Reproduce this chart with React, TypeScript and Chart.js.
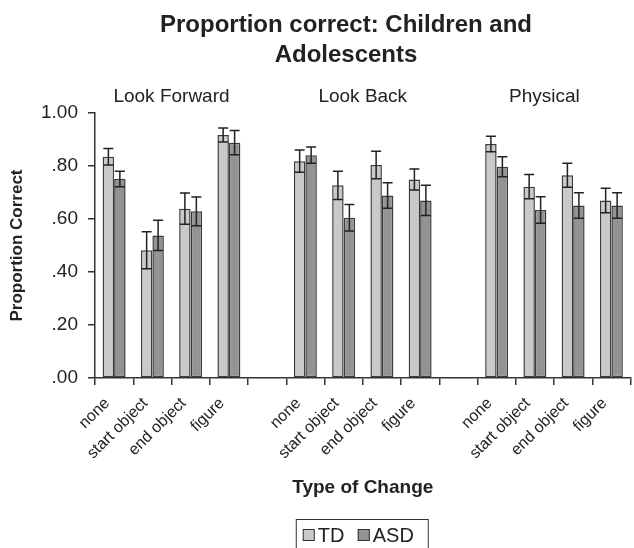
import React, { useEffect, useRef } from "react";
import { Chart, registerables } from "chart.js";

Chart.register(...registerables);

const titleLines = ["Proportion correct: Children and", "Adolescents"];
const categories = [
  "none", "start object", "end object", "figure", "",
  "none", "start object", "end object", "figure", "",
  "none", "start object", "end object", "figure",
];
const groupLabels = ["Look Forward", "Look Back", "Physical"];
const groupLabelPositions = [1.5, 6.5, 11.25];
const tdValues = [0.835, 0.482, 0.639, 0.917, null, 0.818, 0.727, 0.804, 0.749, null, 0.883, 0.722, 0.765, 0.67];
const tdErrors = [0.031, 0.07, 0.059, 0.026, null, 0.042, 0.053, 0.052, 0.04, null, 0.029, 0.046, 0.045, 0.046];
const asdValues = [0.751, 0.538, 0.629, 0.888, null, 0.841, 0.605, 0.689, 0.67, null, 0.797, 0.634, 0.651, 0.651];
const asdErrors = [0.029, 0.057, 0.054, 0.046, null, 0.031, 0.05, 0.048, 0.057, null, 0.038, 0.05, 0.048, 0.048];
const yTicks = [0, 0.2, 0.4, 0.6, 0.8, 1.0];
const seriesNames = ["TD", "ASD"];
const seriesColors = ["#c9c9cb", "#939396"];

const FONT = "'Liberation Sans', Arial, sans-serif";

const fmtTick = (v: number) => {
  if (Math.abs(v - 1) < 1e-6) return "1.00";
  return "." + String(Math.round(v * 100)).padStart(2, "0");
};

const errorBarPlugin = {
  id: "errorBars",
  afterDatasetsDraw(chart: any) {
    const ctx = chart.ctx;
    const y = chart.scales.y;
    const errs = [tdErrors, asdErrors];
    ctx.save();
    ctx.strokeStyle = "#222";
    ctx.lineWidth = 1.5;
    chart.data.datasets.forEach((ds: any, di: number) => {
      const meta = chart.getDatasetMeta(di);
      meta.data.forEach((bar: any, i: number) => {
        const v = ds.data[i];
        const e = errs[di][i];
        if (v == null || e == null) return;
        const x = bar.x;
        const yt = y.getPixelForValue(v + e);
        const yb = y.getPixelForValue(v - e);
        const hw = 5;
        ctx.beginPath();
        ctx.moveTo(x, yt);
        ctx.lineTo(x, yb);
        ctx.moveTo(x - hw, yt);
        ctx.lineTo(x + hw, yt);
        ctx.moveTo(x - hw, yb);
        ctx.lineTo(x + hw, yb);
        ctx.stroke();
      });
    });
    ctx.restore();
  },
};

const textPlugin = {
  id: "texts",
  afterDraw(chart: any) {
    const ctx = chart.ctx;
    const xs = chart.scales.x;
    const area = chart.chartArea;
    ctx.save();
    ctx.fillStyle = "#222";
    ctx.textAlign = "center";
    ctx.textBaseline = "alphabetic";
    ctx.font = `bold 24px ${FONT}`;
    ctx.fillText(titleLines[0], 346, 32);
    ctx.fillText(titleLines[1], 346, 62);

    ctx.font = `19px ${FONT}`;
    groupLabels.forEach((g, i) => {
      ctx.fillText(g, xs.getPixelForValue(groupLabelPositions[i]), 102);
    });

    // legend
    const cx = (area.left + area.right) / 2;
    const L = cx - 67;
    ctx.strokeStyle = "#333";
    ctx.lineWidth = 1;
    ctx.strokeRect(L + 0.5, 519.5, 132, 40);
    ctx.font = `20px ${FONT}`;
    ctx.textAlign = "left";
    const items = [
      { sq: L + 7, tx: L + 22 },
      { sq: L + 62, tx: L + 77 },
    ];
    items.forEach((it, i) => {
      ctx.fillStyle = seriesColors[i];
      ctx.fillRect(it.sq, 529, 12, 12);
      ctx.strokeStyle = "#333";
      ctx.strokeRect(it.sq + 0.5, 529.5, 11, 11);
      ctx.fillStyle = "#222";
      ctx.fillText(seriesNames[i], it.tx, 542);
    });
    ctx.restore();
  },
};

export default function App() {
  const ref = useRef<HTMLCanvasElement | null>(null);
  useEffect(() => {
    document.body.style.margin = "0";
    const canvas = ref.current!;
    const chart = new Chart(canvas, {
      type: "bar",
      data: {
        labels: categories,
        datasets: [
          {
            label: seriesNames[0],
            data: tdValues as any,
            backgroundColor: seriesColors[0],
            borderColor: "#3c3c3c",
            borderWidth: 1.5,
            borderSkipped: false,
            categoryPercentage: 0.6,
            barPercentage: 1.0,
          },
          {
            label: seriesNames[1],
            data: asdValues as any,
            backgroundColor: seriesColors[1],
            borderColor: "#3c3c3c",
            borderWidth: 1.5,
            borderSkipped: false,
            categoryPercentage: 0.6,
            barPercentage: 1.0,
          },
        ],
      },
      options: {
        animation: false,
        responsive: false,
        maintainAspectRatio: false,
        layout: { padding: { top: 113, right: 1, bottom: 48, left: 0 } },
        plugins: {
          legend: { display: false },
          title: { display: false },
          tooltip: { enabled: false },
        },
        scales: {
          x: {
            offset: true,
            grid: {
              offset: true,
              drawOnChartArea: false,
              drawTicks: true,
              tickLength: 7,
              color: "#333",
              lineWidth: 1.5,
            },
            border: { display: true, color: "#333", width: 1.5 },
            ticks: {
              autoSkip: false,
              minRotation: 45,
              maxRotation: 45,
              color: "#222",
              font: { family: FONT, size: 16 },
              padding: 9,
              labelOffset: -7,
            },
            title: {
              display: true,
              text: "Type of Change",
              color: "#222",
              font: { family: FONT, size: 19, weight: "bold" },
              padding: { top: 0, bottom: 1 },
            },
            afterFit: (scale: any) => {
              scale.height = 122;
            },
          },
          y: {
            min: 0,
            max: 1,
            afterBuildTicks: (scale: any) => {
              scale.ticks = yTicks.map((v) => ({ value: v }));
            },
            grid: {
              drawOnChartArea: false,
              drawTicks: true,
              tickLength: 7,
              color: "#333",
              lineWidth: 1.5,
            },
            border: { display: true, color: "#333", width: 1.5 },
            ticks: {
              color: "#222",
              font: { family: FONT, size: 19 },
              padding: 10,
              callback: (v: any) => fmtTick(Number(v)),
            },
            title: {
              display: true,
              text: "Proportion Correct",
              color: "#222",
              font: { family: FONT, size: 17, weight: "bold" },
              padding: { top: 7, bottom: 6 },
            },
            afterFit: (scale: any) => {
              scale.width = 95;
            },
          },
        },
      },
      plugins: [errorBarPlugin, textPlugin],
    });
    return () => chart.destroy();
  }, []);
  return <canvas ref={ref} width={634} height={548} style={{ display: "block" }} />;
}
